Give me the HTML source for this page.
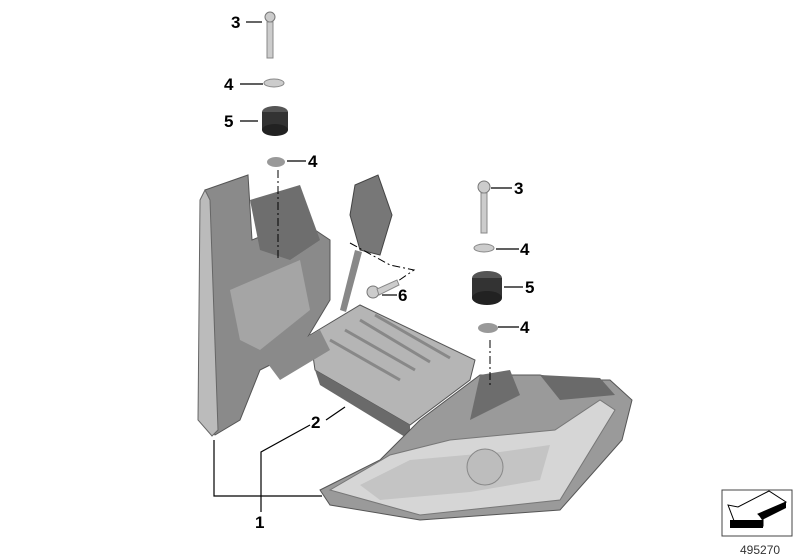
<!DOCTYPE html>
<html><head><style>body{margin:0;background:#fff}svg{display:block}text{font-family:"Liberation Sans",sans-serif;font-weight:bold;font-size:17px;fill:#000}</style></head>
<body>
<svg width="800" height="560" viewBox="0 0 800 560">
<!-- left housing -->
<path d="M205 190 L248 175 L252 240 L300 220 L330 240 L330 300 L300 350 L260 370 L240 420 L215 435 L205 420 Z" fill="#8a8a8a" stroke="#555"/>
<path d="M205 190 L200 200 L198 420 L212 436 L218 430 L210 200 Z" fill="#bbb" stroke="#666"/>
<path d="M250 200 L300 185 L320 240 L290 260 L260 250 Z" fill="#6e6e6e"/>
<path d="M230 290 L300 260 L310 310 L260 350 L240 340 Z" fill="#a5a5a5"/>
<!-- bracket -->
<path d="M355 185 L378 175 L392 215 L380 255 L360 250 L350 215 Z" fill="#777" stroke="#444"/>
<path d="M355 250 L340 310 L346 312 L362 252 Z" fill="#888"/>
<!-- control unit -->
<path d="M310 335 L360 305 L475 360 L470 380 L410 425 L315 370 Z" fill="#b5b5b5" stroke="#555"/>
<path d="M315 370 L410 425 L410 440 L320 385 Z" fill="#6a6a6a"/>
<g stroke="#888" stroke-width="3">
<line x1="330" y1="340" x2="400" y2="380"/><line x1="345" y1="330" x2="415" y2="370"/><line x1="360" y1="320" x2="430" y2="362"/><line x1="375" y1="315" x2="450" y2="358"/>
</g>
<path d="M265 360 L320 330 L330 350 L280 380 Z" fill="#8a8a8a"/>
<!-- front lamp -->
<path d="M420 420 L480 375 L540 375 L560 380 L610 380 L632 400 L622 440 L560 510 L420 520 L330 505 L320 490 L380 460 Z" fill="#9a9a9a" stroke="#555"/>
<path d="M330 490 L390 455 L450 440 L555 430 L600 400 L615 410 L560 500 L420 515 Z" fill="#d6d6d6" stroke="#777"/>
<path d="M360 485 L410 460 L500 452 L550 445 L540 480 L470 492 L380 500 Z" fill="#c4c4c4"/>
<circle cx="485" cy="467" r="18" fill="#bdbdbd" stroke="#888"/>
<path d="M540 375 L600 378 L615 395 L560 400 Z" fill="#6a6a6a"/>
<path d="M480 375 L510 370 L520 395 L470 420 Z" fill="#6d6d6d"/>
<!-- fasteners left -->
<circle cx="270" cy="17" r="5" fill="#ccc" stroke="#777"/><rect x="267" y="22" width="6" height="36" fill="#ccc" stroke="#888"/>
<ellipse cx="274" cy="83" rx="10" ry="4" fill="#ccc" stroke="#888"/>
<ellipse cx="275" cy="112" rx="13" ry="6" fill="#555"/><rect x="262" y="112" width="26" height="18" fill="#333"/><ellipse cx="275" cy="130" rx="13" ry="6" fill="#222"/>
<ellipse cx="276" cy="162" rx="9" ry="5" fill="#999"/>
<line x1="278" y1="170" x2="278" y2="260" stroke="#000" stroke-dasharray="8 3 2 3"/>
<!-- fasteners right -->
<circle cx="484" cy="187" r="6" fill="#ccc" stroke="#777"/><rect x="481" y="193" width="6" height="40" fill="#ccc" stroke="#888"/>
<ellipse cx="484" cy="248" rx="10" ry="4" fill="#ccc" stroke="#888"/>
<ellipse cx="487" cy="278" rx="15" ry="7" fill="#555"/><rect x="472" y="278" width="30" height="20" fill="#333"/><ellipse cx="487" cy="298" rx="15" ry="7" fill="#222"/>
<ellipse cx="488" cy="328" rx="10" ry="5" fill="#999"/>
<line x1="490" y1="340" x2="490" y2="385" stroke="#000" stroke-dasharray="8 3 2 3"/>
<!-- screw 6 -->
<ellipse cx="373" cy="292" rx="6" ry="6" fill="#ccc" stroke="#777"/><path d="M377 289 L397 280 L399 285 L379 295 Z" fill="#ccc" stroke="#888"/>
<path d="M350 243 L390 265 L414 270 L398 281" fill="none" stroke="#000" stroke-dasharray="8 3 2 3"/>
<!-- leader lines -->
<g stroke="#000" stroke-width="1.2" fill="none">
<line x1="246" y1="22" x2="262" y2="22"/>
<line x1="240" y1="84" x2="263" y2="84"/>
<line x1="240" y1="121" x2="258" y2="121"/>
<line x1="287" y1="161" x2="306" y2="161"/>
<line x1="491" y1="188" x2="512" y2="188"/>
<line x1="496" y1="249" x2="519" y2="249"/>
<line x1="504" y1="287" x2="523" y2="287"/>
<line x1="498" y1="327" x2="519" y2="327"/>
<line x1="382" y1="295" x2="397" y2="295"/>
<path d="M214 440 L214 496 L322 496"/>
<path d="M261 512 L261 452 L310 425"/>
<line x1="326" y1="420" x2="345" y2="407"/>
</g>
<text x="231" y="28">3</text><text x="224" y="90">4</text><text x="224" y="127">5</text>
<text x="308" y="167">4</text><text x="514" y="194">3</text><text x="520" y="255">4</text>
<text x="525" y="293">5</text><text x="520" y="333">4</text><text x="398" y="301">6</text>
<text x="311" y="428">2</text><text x="255" y="528">1</text>
<!-- icon -->
<rect x="722" y="490" width="70" height="46" fill="#fff" stroke="#444"/>
<path d="M728 505 L736 526 L763 526 L763 519 L758 514 L786 502 L769 491 L738 507 Z" fill="#fff" stroke="#000"/>
<path d="M730 520 L763 520 L763 528 L730 528 Z" fill="#000"/>
<path d="M758 514 L786 502 L786 508 L762 520 Z" fill="#000"/>
<text x="740" y="554" style="font-weight:normal;font-size:12px;fill:#333">495270</text>
</svg>
</body></html>
